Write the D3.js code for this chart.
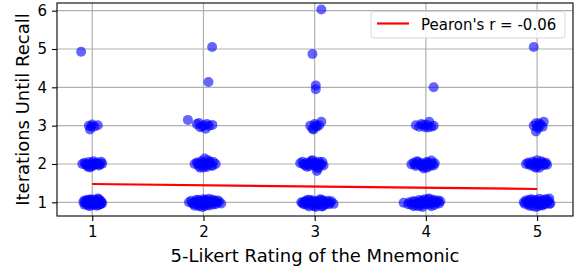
<!DOCTYPE html>
<html><head><meta charset="utf-8">
<script src="https://cdn.jsdelivr.net/npm/d3@7"></script>
<style>body{margin:0;background:#fff}svg{display:block}</style>
</head><body>
<svg id="c" width="575" height="270"></svg>
<script>
// Jittered observations (x = rating + jitter, y = iterations + jitter)
const rating1Points = [[0.92,1.01],[0.94,0.97],[0.95,1.04],[0.97,0.99],[0.98,1.06],[1.0,0.96],[1.01,1.02],[1.02,0.93],[1.03,1.05],[1.05,0.99],[1.06,1.08],[1.07,0.95],[1.08,1.02],[1.09,0.98],[0.96,0.92],[0.99,1.08],[1.04,0.91],[0.93,1.05],
  [0.93,0.94],[0.95,1.0],[0.97,1.03],[0.99,0.94],[1.0,1.0],[1.02,1.07],[1.04,1.02],[1.06,0.93],[1.07,1.05],[1.08,0.96],[0.98,0.9],[1.03,0.97],[1.05,1.1],[0.96,1.07],
  [0.91,2.0],[0.93,2.03],[0.95,1.97],[0.97,2.05],[0.99,1.95],[1.0,2.02],[1.02,1.98],[1.04,2.04],[1.06,1.96],[1.08,2.06],[1.09,2.01],[0.96,1.93],[1.01,2.07],
  [0.94,1.99],[0.98,2.0],[1.0,1.94],[1.03,2.01],[1.05,2.0],[1.07,1.99],[0.98,1.91],
  [0.97,3.0],[0.98,2.9],[1.0,3.03],[1.02,2.98],[1.05,3.01],[0.99,2.97],
  [0.9,4.93]];
const rating2Points = [[1.87,1.0],[1.89,1.04],[1.91,0.96],[1.93,1.02],[1.95,0.93],[1.96,1.06],[1.98,0.99],[2.0,1.03],[2.01,0.9],[2.02,1.07],[2.04,0.97],[2.06,1.02],[2.08,0.94],[2.1,1.05],[2.12,0.99],[2.14,1.01],[2.16,0.97],[1.99,0.88],[2.05,1.09],[1.92,0.91],
  [1.9,0.98],[1.94,0.97],[1.97,1.02],[1.99,0.95],[2.01,1.0],[2.03,1.04],[2.05,0.92],[2.07,0.98],[2.09,1.01],[2.11,0.95],[2.13,1.05],[1.96,0.9],[2.02,0.94],[1.94,1.07],[2.08,1.07],[2.0,1.08],
  [1.92,2.0],[1.94,2.04],[1.96,1.95],[1.98,2.07],[2.0,1.99],[2.01,2.14],[2.03,1.92],[2.05,2.03],[2.07,1.97],[2.09,2.05],[2.11,2.0],[1.97,1.9],[2.04,2.1],
  [1.95,2.01],[1.99,2.03],[2.02,1.96],[2.04,2.0],[2.06,2.06],[2.08,1.95],[2.0,1.91],[1.98,1.98],
  [1.86,3.15],[1.94,3.04],[1.97,2.96],[2.0,3.01],[2.02,2.92],[2.05,3.0],[2.08,3.02],[1.96,3.07],[1.99,2.98],[2.03,3.04],
  [2.045,4.14],[2.078,5.05]];
const rating3Points = [[2.88,1.0],[2.9,0.95],[2.92,1.04],[2.94,0.98],[2.96,1.06],[2.98,0.92],[3.0,1.01],[3.02,0.97],[3.04,1.05],[3.06,0.9],[3.08,1.02],[3.1,0.97],[3.12,1.04],[3.14,0.99],[3.17,0.96],[2.95,0.89],[3.05,1.08],[3.01,0.88],
  [2.89,0.98],[2.91,1.01],[2.93,0.93],[2.97,1.0],[2.99,1.05],[3.01,0.95],[3.03,1.01],[3.05,0.96],[3.07,1.06],[3.09,0.93],[3.11,1.0],[3.13,0.95],[3.15,1.03],[2.94,1.07],[3.0,0.9],[3.07,0.89],
  [2.87,2.02],[2.89,2.06],[2.91,1.97],[2.93,2.03],[2.95,1.94],[2.97,2.08],[2.99,1.99],[3.01,2.04],[3.03,1.93],[3.05,2.0],[3.07,2.05],[3.08,1.96],[3.02,1.82],[2.98,2.1],
  [2.9,2.0],[2.94,1.99],[2.96,2.02],[3.0,1.95],[3.02,2.0],[3.04,2.06],[3.06,1.98],[2.93,1.93],[3.03,1.88],
  [2.96,3.0],[2.98,2.92],[3.0,3.04],[3.02,2.97],[3.04,3.01],[3.06,3.1],[2.99,2.9],[3.01,3.0],
  [3.01,4.05],[3.01,3.95],[2.98,4.87],[3.06,6.03]];
const rating4Points = [[3.8,0.99],[3.85,1.0],[3.87,0.94],[3.9,1.03],[3.92,0.97],[3.94,1.06],[3.96,0.92],[3.98,1.02],[4.0,0.96],[4.02,1.08],[4.04,0.99],[4.06,1.04],[4.08,0.93],[4.1,1.01],[4.12,0.97],[4.13,1.03],[3.97,0.88],[4.03,1.1],[3.93,0.9],
  [3.84,0.95],[3.88,1.02],[3.91,0.93],[3.93,1.0],[3.95,0.97],[3.97,1.05],[3.99,0.99],[4.01,1.02],[4.03,0.94],[4.05,0.97],[4.07,1.07],[4.09,0.99],[4.11,1.05],[3.99,1.08],[4.05,0.9],[3.89,0.9],
  [3.87,1.99],[3.89,2.03],[3.91,1.95],[3.93,2.05],[3.95,1.97],[3.97,2.02],[3.99,1.92],[4.01,2.06],[4.03,1.98],[4.05,2.09],[4.07,1.96],[4.08,2.02],[3.98,1.88],
  [3.9,1.99],[3.94,2.0],[3.96,1.94],[4.0,2.0],[4.02,2.03],[4.04,1.95],[4.06,2.01],[3.92,2.07],[4.01,1.9],
  [3.91,3.01],[3.94,2.97],[3.96,3.04],[3.99,2.96],[4.01,3.02],[4.03,3.1],[4.05,2.97],[4.07,3.0],[3.98,3.02],[4.02,2.95],
  [4.07,4.0]];
const rating5Points = [[4.88,1.0],[4.9,1.05],[4.92,0.95],[4.94,1.02],[4.96,0.9],[4.98,1.06],[5.0,0.98],[5.02,1.03],[5.04,0.93],[5.06,1.07],[5.08,0.99],[5.1,1.04],[5.12,0.97],[5.11,1.1],[4.99,0.88],[5.05,0.92],[4.93,1.07],
  [4.89,0.96],[4.91,1.01],[4.95,0.97],[4.97,1.01],[4.99,1.04],[5.01,0.95],[5.03,0.99],[5.05,1.02],[5.07,0.95],[5.09,1.01],[5.11,0.96],[4.95,1.08],[5.02,1.09],[4.93,0.91],[5.08,1.08],[5.01,0.9],
  [4.9,2.0],[4.92,2.04],[4.94,1.96],[4.96,2.06],[4.98,1.93],[5.0,2.02],[5.02,1.9],[5.04,2.07],[5.06,1.97],[5.08,2.03],[5.09,1.98],[5.0,2.1],
  [4.93,2.0],[4.96,1.99],[4.98,2.03],[5.01,1.96],[5.03,2.01],[5.05,2.03],[5.07,2.0],[4.99,1.9],
  [4.97,3.0],[4.99,3.06],[5.01,2.93],[5.03,3.02],[5.05,2.97],[5.06,3.1],[4.99,2.85],[5.0,2.98],[5.02,3.06],
  [4.97,5.05]];
const fitX = [1, 5];
const fitY = [1.478, 1.347];
const xTicks = [1, 2, 3, 4, 5];
const yTicks = [1, 2, 3, 4, 5, 6];
const legendLabel = "Pearon's r = -0.06";
const xLabel = "5-Likert Rating of the Mnemonic";
const yLabel = "Iterations Until Recall";

const svg = d3.select("#c");
const L = 57, R = 573, T = 3, B = 216;
const x = d3.scaleLinear().domain([0.683, 5.323]).range([L, R]);
const y = d3.scaleLinear().domain([0.643, 6.2]).range([B, T]);
const font = "DejaVu Sans, sans-serif";

// grid
const g = svg.append("g");
g.selectAll(".gx").data(xTicks).join("line")
  .attr("x1", d => x(d)).attr("x2", d => x(d)).attr("y1", T).attr("y2", B)
  .attr("stroke", "#b0b0b0").attr("stroke-width", 1.2);
g.selectAll(".gy").data(yTicks).join("line")
  .attr("y1", d => y(d)).attr("y2", d => y(d)).attr("x1", L).attr("x2", R)
  .attr("stroke", "#b0b0b0").attr("stroke-width", 1.2);

// points
const allPoints = [].concat(rating1Points, rating2Points, rating3Points, rating4Points, rating5Points);
svg.append("g").selectAll("circle").data(allPoints).join("circle")
  .attr("cx", d => x(d[0])).attr("cy", d => y(d[1])).attr("r", 5)
  .attr("fill", "#0000ff").attr("fill-opacity", 0.6);

// fit line
svg.append("line")
  .attr("x1", x(fitX[0])).attr("y1", y(fitY[0]))
  .attr("x2", x(fitX[1])).attr("y2", y(fitY[1]))
  .attr("stroke", "#ff0000").attr("stroke-width", 2.2);

// axes
const xa = svg.append("g").attr("transform", `translate(0,${B})`)
  .call(d3.axisBottom(x).tickValues(xTicks).tickSize(5).tickPadding(5).tickFormat(d3.format("d")));
const ya = svg.append("g").attr("transform", `translate(${L},0)`)
  .call(d3.axisLeft(y).tickValues(yTicks).tickSize(5).tickPadding(5).tickFormat(d3.format("d")));
[xa, ya].forEach(a => {
  a.select(".domain").remove();
  a.selectAll("line").attr("stroke", "#000").attr("stroke-width", 1.1);
  a.selectAll("text").attr("font-family", font).attr("font-size", 15).attr("fill", "#000");
});

// frame
svg.append("rect").attr("x", L).attr("y", T).attr("width", R - L).attr("height", B - T)
  .attr("fill", "none").attr("stroke", "#000").attr("stroke-width", 1.1);

// labels
svg.append("text").attr("x", (L + R) / 2).attr("y", 262).attr("text-anchor", "middle")
  .attr("font-family", font).attr("font-size", 18).text(xLabel);
svg.append("text").attr("transform", `translate(29,${(T + B) / 2}) rotate(-90)`).attr("text-anchor", "middle")
  .attr("font-family", font).attr("font-size", 18).text(yLabel);

// legend
const lg = svg.append("g");
lg.append("rect").attr("x", 371).attr("y", 11.5).attr("width", 194).attr("height", 26.5).attr("rx", 3)
  .attr("fill", "#fff").attr("fill-opacity", 0.8).attr("stroke", "#d6d6d6").attr("stroke-width", 1);
lg.append("line").attr("x1", 377).attr("x2", 409).attr("y1", 23.5).attr("y2", 23.5)
  .attr("stroke", "#ff0000").attr("stroke-width", 2.2);
lg.append("text").attr("x", 421).attr("y", 29.5).attr("font-family", font).attr("font-size", 15).text(legendLabel);
</script>
</body></html>
